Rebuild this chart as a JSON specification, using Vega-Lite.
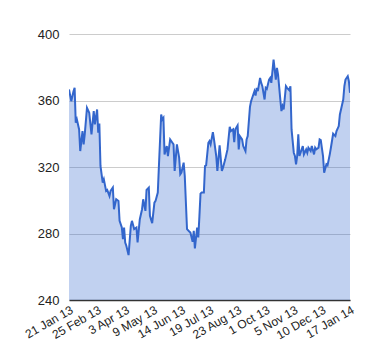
{
  "$schema": "https://vega.github.io/schema/vega-lite/v6.json",
  "autosize": "none",
  "width": 281,
  "height": 266,
  "padding": {"left": 69, "top": 34, "right": 30, "bottom": 60},
  "background": "white",
  "config": {
    "view": {"stroke": null},
    "font": "Liberation Sans",
    "axis": {"labelFont": "Liberation Sans", "labelColor": "#222222", "labelFontSize": 13, "ticks": false, "title": null}
  },
  "data": {"values": [
    {"i":0,"v":366.6},{"i":2,"v":359.6},{"i":4,"v":365.6},{"i":5,"v":367.6},{"i":6,"v":346.6},{"i":7,"v":348.6},{"i":9,"v":342.6},{"i":10,"v":329.6},{"i":12,"v":341.6},{"i":13,"v":333.6},{"i":14,"v":339.6},{"i":16,"v":355.6},{"i":18,"v":352.6},{"i":20,"v":339.6},{"i":22,"v":353.6},{"i":23,"v":345.6},{"i":25,"v":354.6},{"i":26,"v":340.6},{"i":27,"v":346.2},{"i":28,"v":320.6},{"i":30,"v":310.6},{"i":31,"v":312.6},{"i":33,"v":305.6},{"i":34,"v":306.2},{"i":36,"v":302.6},{"i":37,"v":305.6},{"i":39,"v":307.6},{"i":40,"v":294.6},{"i":42,"v":300.6},{"i":44,"v":299.6},{"i":45,"v":287.6},{"i":47,"v":283.6},{"i":48,"v":276.6},{"i":49,"v":283.6},{"i":50,"v":274.6},{"i":51,"v":272.6},{"i":53,"v":267.0},{"i":55,"v":284.6},{"i":56,"v":287.6},{"i":58,"v":282.6},{"i":60,"v":283.6},{"i":61,"v":274.6},{"i":63,"v":288.6},{"i":65,"v":294.6},{"i":66,"v":300.6},{"i":68,"v":293.6},{"i":69,"v":306.2},{"i":71,"v":307.6},{"i":72,"v":290.6},{"i":74,"v":286.2},{"i":76,"v":298.6},{"i":77,"v":299.6},{"i":79,"v":304.6},{"i":80,"v":320.6},{"i":82,"v":351.6},{"i":83,"v":348.6},{"i":84,"v":349.6},{"i":85,"v":327.6},{"i":87,"v":332.6},{"i":88,"v":326.6},{"i":90,"v":336.6},{"i":92,"v":334.6},{"i":93,"v":333.6},{"i":94,"v":317.6},{"i":96,"v":333.6},{"i":98,"v":325.6},{"i":99,"v":315.6},{"i":100,"v":316.6},{"i":102,"v":322.6},{"i":103,"v":314.6},{"i":105,"v":282.6},{"i":107,"v":281.2},{"i":108,"v":280.6},{"i":110,"v":275.0},{"i":111,"v":281.6},{"i":112,"v":271.0},{"i":114,"v":283.6},{"i":115,"v":277.6},{"i":116,"v":290.0},{"i":117,"v":304.0},{"i":118,"v":304.6},{"i":120,"v":304.6},{"i":121,"v":320.6},{"i":122,"v":321.0},{"i":124,"v":334.6},{"i":125,"v":335.6},{"i":126,"v":333.6},{"i":128,"v":341.0},{"i":129,"v":336.6},{"i":131,"v":326.6},{"i":132,"v":317.6},{"i":134,"v":333.0},{"i":136,"v":317.6},{"i":137,"v":319.6},{"i":139,"v":324.6},{"i":141,"v":330.6},{"i":143,"v":344.2},{"i":144,"v":341.6},{"i":146,"v":342.6},{"i":147,"v":335.0},{"i":148,"v":342.6},{"i":150,"v":345.0},{"i":151,"v":330.6},{"i":152,"v":338.6},{"i":154,"v":336.6},{"i":155,"v":332.6},{"i":157,"v":329.6},{"i":158,"v":336.6},{"i":159,"v":338.6},{"i":161,"v":356.2},{"i":162,"v":359.6},{"i":164,"v":363.6},{"i":165,"v":365.6},{"i":166,"v":363.0},{"i":167,"v":367.6},{"i":168,"v":365.6},{"i":170,"v":373.6},{"i":171,"v":370.6},{"i":172,"v":368.6},{"i":174,"v":360.6},{"i":175,"v":367.6},{"i":176,"v":367.0},{"i":178,"v":372.6},{"i":179,"v":373.6},{"i":180,"v":370.6},{"i":182,"v":384.6},{"i":183,"v":378.6},{"i":184,"v":372.6},{"i":185,"v":379.6},{"i":186,"v":375.6},{"i":188,"v":360.6},{"i":189,"v":353.6},{"i":190,"v":356.6},{"i":191,"v":354.6},{"i":193,"v":368.6},{"i":194,"v":367.6},{"i":196,"v":366.2},{"i":197,"v":368.6},{"i":198,"v":342.6},{"i":200,"v":328.6},{"i":201,"v":326.6},{"i":202,"v":321.6},{"i":203,"v":326.6},{"i":204,"v":339.6},{"i":205,"v":326.6},{"i":206,"v":328.6},{"i":208,"v":332.6},{"i":209,"v":327.6},{"i":211,"v":330.6},{"i":212,"v":328.6},{"i":213,"v":331.6},{"i":215,"v":329.6},{"i":216,"v":332.6},{"i":218,"v":327.6},{"i":219,"v":331.6},{"i":220,"v":330.6},{"i":222,"v":331.6},{"i":223,"v":336.6},{"i":224,"v":336.2},{"i":226,"v":326.6},{"i":227,"v":316.6},{"i":229,"v":321.6},{"i":230,"v":321.0},{"i":232,"v":327.6},{"i":233,"v":331.6},{"i":235,"v":340.0},{"i":237,"v":338.6},{"i":238,"v":341.6},{"i":240,"v":344.6},{"i":241,"v":351.6},{"i":243,"v":357.6},{"i":244,"v":360.6},{"i":245,"v":368.6},{"i":246,"v":372.6},{"i":248,"v":374.6},{"i":249,"v":371.6},{"i":250,"v":364.6}
  ]},
  "encoding": {
    "x": {
      "field": "i", "type": "quantitative",
      "scale": {"domain": [0, 250], "nice": false, "zero": false},
      "axis": {
        "values": [0,25,50,75,100,125,150,175,200,225,250],
        "labelExpr": "['21 Jan 13','25 Feb 13','3 Apr 13','9 May 13','14 Jun 13','19 Jul 13','23 Aug 13','1 Oct 13','5 Nov 13','10 Dec 13','17 Jan 14'][round(datum.value/25)]",
        "labelAngle": -30, "labelAlign": "right", "labelBaseline": "top",
        "labelFontSize": 12, "labelPadding": 4, "labelOverlap": false, "labelFlush": false,
        "grid": false, "domainColor": "#333333", "domainWidth": 1.5
      }
    },
    "y": {
      "field": "v", "type": "quantitative",
      "scale": {"domain": [240, 400], "nice": false, "zero": false},
      "axis": {
        "values": [240, 280, 320, 360, 400],
        "grid": true, "gridColor": "#cccccc", "domain": false, "labelPadding": 10
      }
    }
  },
  "layer": [
    {"mark": {"type": "area", "color": "#3366cc", "fillOpacity": 0.3, "clip": true}},
    {"mark": {"type": "line", "color": "#3366cc", "strokeWidth": 2, "clip": true}}
  ]
}
